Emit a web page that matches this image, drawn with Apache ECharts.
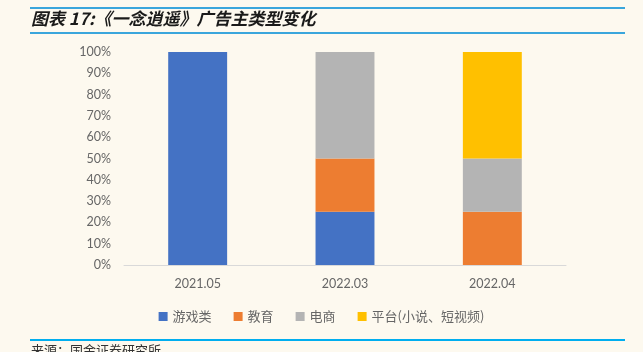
<!DOCTYPE html>
<html>
<head>
<meta charset="utf-8">
<script src="https://cdn.jsdelivr.net/npm/echarts@6/dist/echarts.min.js"></script>
<style>
  html, body { margin: 0; padding: 0; background: #fdf9ef; }
  #chart { width: 643px; height: 352px; }
</style>
</head>
<body>
<div id="chart"></div>
<script>
const categories = ['2021.05', '2022.03', '2022.04']
const seriesNames = ['游戏类', '教育', '电商', '平台(小说、短视频)']
const gameValues = [1.0, 0.25, 0]
const eduValues = [0, 0.25, 0.25]
const ecomValues = [0, 0.5, 0.25]
const platformValues = [0, 0, 0.5]
const colors = ['#4472c4', '#ed7d31', '#b4b4b4', '#ffc000']

const chart = echarts.init(document.getElementById('chart'))

const makeSeries = (name, values, color) => ({
  name,
  type: 'bar',
  stack: 'total',
  barWidth: '40%',
  data: values,
  itemStyle: { color },
  emphasis: { disabled: true }
})

const option = {
  backgroundColor: '#fdf9ef',
  animation: false,
  textStyle: { fontFamily: 'Lato, "Noto Sans CJK SC", sans-serif' },
  grid: { left: 124, right: 77, top: 52, bottom: 87 },
  legend: {
    bottom: 24,
    left: 'center',
    itemWidth: 9,
    itemHeight: 9,
    itemGap: 22,
    icon: 'rect',
    textStyle: { color: '#666', fontSize: 13, fontFamily: '"Noto Sans CJK SC", sans-serif' },
    data: seriesNames
  },
  xAxis: {
    type: 'category',
    data: categories,
    axisLine: { lineStyle: { color: '#d9d9d9', width: 1 } },
    axisTick: { show: false },
    axisLabel: { color: '#666', fontSize: 12.5, margin: 13 }
  },
  yAxis: {
    type: 'value',
    min: 0,
    max: 1,
    interval: 0.1,
    splitLine: { show: false },
    axisLine: { show: false },
    axisTick: { show: false },
    axisLabel: {
      color: '#666',
      fontSize: 12.5,
      margin: 13,
      formatter: v => Math.round(v * 100) + '%'
    }
  },
  series: [
    makeSeries(seriesNames[0], gameValues, colors[0]),
    makeSeries(seriesNames[1], eduValues, colors[1]),
    makeSeries(seriesNames[2], ecomValues, colors[2]),
    makeSeries(seriesNames[3], platformValues, colors[3])
  ],
  graphic: [
    { type: 'rect', shape: { x: 30, y: 7, width: 595, height: 2 }, style: { fill: '#3aa6dc' } },
    { type: 'rect', shape: { x: 30, y: 32, width: 595, height: 2 }, style: { fill: '#3aa6dc' } },
    {
      type: 'text', left: 31, top: 10,
      style: {
        text: '图表 17:《一念逍遥》广告主类型变化',
        font: 'italic bold 17px "Noto Sans CJK SC", serif',
        fill: '#1a1a1a'
      }
    },
    { type: 'rect', shape: { x: 30, y: 339, width: 595, height: 2 }, style: { fill: '#00aeef' } },
    {
      type: 'text', left: 31, top: 344,
      style: {
        text: '来源：国金证券研究所',
        font: '13px "Noto Sans CJK SC", sans-serif',
        fill: '#333'
      }
    }
  ]
}

chart.setOption(option)
</script>
</body>
</html>
